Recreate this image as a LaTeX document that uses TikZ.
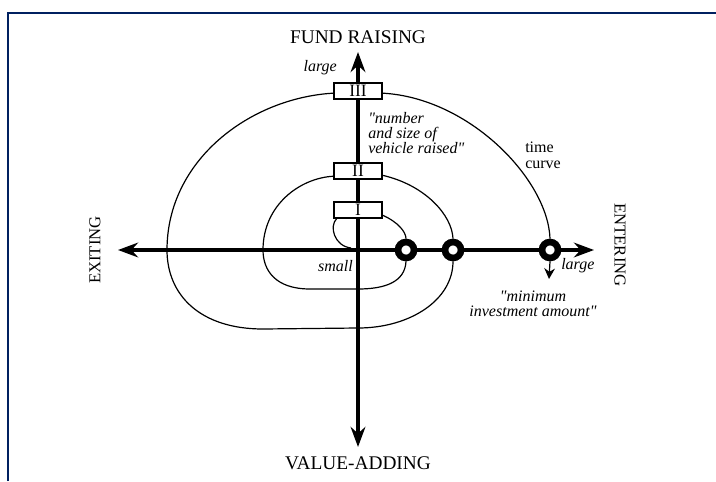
\documentclass[tikz,border=0pt]{standalone}
\usepackage{fontspec}
\setmainfont{Liberation Serif}
\usetikzlibrary{arrows.meta}

\begin{document}
\begin{tikzpicture}[x=0.75pt, y=-0.75pt,
  axis/.style={line width=3pt, {Stealth[length=15pt,width=11pt]}-{Stealth[length=15pt,width=11pt]}},
  stage/.style={draw, fill=white, line width=0.9pt, minimum width=36pt, minimum height=12pt, inner sep=0pt, font=\fontsize{13}{13}\selectfont},
  ring/.style={circle, draw, fill=white, line width=5pt, minimum size=12pt, inner sep=0pt},
  curve/.style={line width=0.9pt},
  note/.style={inner sep=0pt, font=\fontsize{12}{11.6}\selectfont\itshape},
  pole/.style={inner sep=0pt, font=\fontsize{14.5}{14.5}\selectfont},
  side/.style={inner sep=0pt, font=\fontsize{12.5}{12.5}\selectfont}]

%─────────────
% Controls
%─────────────
\definecolor{framenavy}{RGB}{0,32,96}  % Frame colour
\useasboundingbox (0,0) rectangle (716,481);

% Frame (only top and left edges show)
\draw[framenavy, line width=1.5pt] (8,481) -- (8,13) -- (716,13);

%─────────────
% Axes
%─────────────
\coordinate (fundEnd)  at (358,52);
\coordinate (valueEnd) at (358,447);
\coordinate (exitEnd)  at (118,250);
\coordinate (enterEnd) at (594,250);
\draw[axis] (valueEnd) -- (fundEnd);
\draw[axis] (exitEnd) -- (enterEnd);

%─────────────
% Stages and rings
%─────────────
\node[stage] (s1) at (358,210) {I};
\node[stage] (s2) at (358,171) {II};
\node[stage] (s3) at (358,91) {III};

\node[ring] (r1) at (406,250) {};
\node[ring] (r2) at (453,250) {};
\node[ring] (r3) at (550,250) {};

%─────────────
% Time curve, from the origin outwards
%─────────────
\coordinate (c0) at (351,248);
\coordinate (tip) at (549,279);
\draw[curve] (c0) .. controls (334,246) and (329,226) .. (s1.202);
\draw[curve] (s1.-12) .. controls (398,222) and (406,232) .. (r1.north);
\draw[curve] (r1.south) .. controls (405,282) and (385,289) .. (358,289) -- (310,289)
  .. controls (275,289) and (263,270) .. (263,250)
  .. controls (263,205) and (300,178) .. (s2.192);
\draw[curve] (s2.-10) .. controls (425,185) and (452,215) .. (r2.north);
\draw[curve] (r2.south) .. controls (453,300) and (410,328) .. (358,328) -- (263,329)
  .. controls (200,329) and (167,295) .. (167,250)
  .. controls (167,160) and (250,98) .. (s3.185);
\draw[curve] (s3.-5) .. controls (470,98) and (548,180) .. (r3.north);
\draw[curve, -{Stealth[length=8pt,width=8pt]}] (r3.south) -- (tip);

%─────────────
% Labels
%─────────────
\node[pole] (fund)  at (358,37)  {FUND RAISING};
\node[pole] (value) at (358,463) {VALUE-ADDING};
\node[side, rotate=90]  (exit)  at (95,250)  {EXITING};
\node[side, rotate=-90] (enter) at (620,245) {ENTERING};

\node[note, anchor=east] (bigFund) at (337,68) {large};
\node[note, anchor=west, align=left] (vehicle) at (368,133) {\textquotedbl number\\and size of\\vehicle raised\textquotedbl};
\node[inner sep=0pt, anchor=west, align=left, font=\fontsize{12}{12}\selectfont] (time) at (525,155) {time\\curve};
\node[note, anchor=west] (bigEnter) at (561,266) {large};
\node[note, align=center] (amount) at (533,304) {\textquotedbl minimum\\investment amount\textquotedbl};
\node[note, anchor=east] (small) at (353,266) {small};
\end{tikzpicture}
\end{document}
